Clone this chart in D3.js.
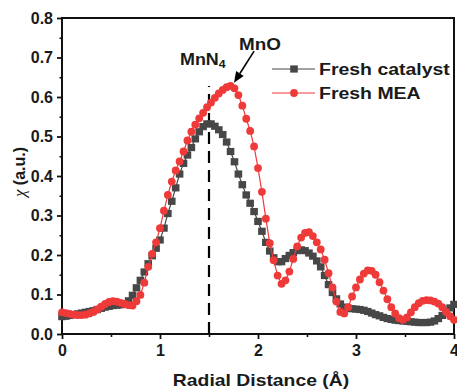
<!DOCTYPE html>
<html>
<head>
<meta charset="utf-8">
<script src="https://cdn.jsdelivr.net/npm/d3@7"></script>
<style>
  html, body { margin: 0; padding: 0; background: #fff; }
  svg { display: block; font-family: "Liberation Sans", Arial, sans-serif; }
</style>
</head>
<body>
<svg id="chart" width="457" height="390"></svg>
<script>
// Radial distance grid (Å), sampled every 0.04 Å from 0 to 4
const rStep = 0.04;
const radialDistance = d3.range(101).map(i => +(i * rStep).toFixed(2));

// |χ(R)| magnitude, Fresh catalyst
const freshCatalyst = [
  0.044,0.045,0.047,0.049,0.051,0.053,0.055,0.057,0.059,0.062,
  0.065,0.068,0.070,0.072,0.073,0.074,0.077,0.084,0.098,0.117,
  0.136,0.157,0.178,0.198,0.217,0.238,0.268,0.305,0.336,0.370,
  0.405,0.432,0.453,0.472,0.494,0.512,0.525,0.532,0.532,0.526,
  0.517,0.505,0.486,0.462,0.436,0.405,0.378,0.352,0.331,0.310,
  0.285,0.260,0.232,0.210,0.193,0.183,0.183,0.191,0.199,0.206,
  0.211,0.213,0.211,0.205,0.197,0.185,0.170,0.148,0.125,0.105,
  0.089,0.076,0.068,0.065,0.064,0.063,0.062,0.060,0.057,0.053,
  0.049,0.046,0.042,0.039,0.037,0.035,0.034,0.033,0.032,0.031,
  0.030,0.029,0.029,0.029,0.030,0.033,0.039,0.047,0.056,0.066,
  0.075
];

// |χ(R)| magnitude, Fresh MEA
const freshMEA = [
  0.055,0.053,0.051,0.049,0.048,0.048,0.049,0.052,0.056,0.062,
  0.069,0.076,0.081,0.083,0.082,0.079,0.076,0.073,0.072,0.083,
  0.099,0.130,0.170,0.203,0.232,0.268,0.312,0.352,0.386,0.414,
  0.437,0.462,0.490,0.512,0.530,0.546,0.560,0.574,0.586,0.598,
  0.609,0.618,0.625,0.628,0.622,0.605,0.578,0.545,0.514,0.475,
  0.420,0.360,0.292,0.230,0.187,0.148,0.127,0.136,0.158,0.190,
  0.222,0.244,0.256,0.258,0.248,0.232,0.214,0.188,0.154,0.118,
  0.082,0.056,0.052,0.068,0.095,0.118,0.138,0.153,0.161,0.160,
  0.150,0.131,0.110,0.088,0.068,0.052,0.040,0.036,0.042,0.055,
  0.068,0.078,0.084,0.086,0.085,0.082,0.077,0.068,0.056,0.045,
  0.036
];

const seriesNames = ["Fresh catalyst", "Fresh MEA"];
const xTicks = [0, 1, 2, 3, 4];
const yTicks = [0, 0.1, 0.2, 0.3, 0.4, 0.5, 0.6, 0.7, 0.8];

// Reference position of the Mn–N4 first shell
const mnN4Position = 1.5;

const colors = { catalyst: "#474747", mea: "#ef3a3a", text: "#1a1a1a" };

const svg = d3.select("#chart");
const plot = { left: 62, right: 454, top: 18, bottom: 334 };

const x = d3.scaleLinear().domain([0, 4]).range([plot.left, plot.right]);
const y = d3.scaleLinear().domain([0, 0.8]).range([plot.bottom, plot.top]);

// Bold label drawn with a slightly widened face
function wideText(parent, px, py, sx, size) {
  return parent.append("text")
    .attr("transform", `translate(${px},${py}) scale(${sx},1)`)
    .attr("fill", colors.text)
    .style("font-size", size + "px")
    .style("font-weight", "bold");
}

// Minor ticks
svg.append("g")
  .attr("transform", `translate(0,${plot.bottom})`)
  .call(d3.axisBottom(x).tickValues(d3.range(0.5, 4, 1)).tickSize(3).tickFormat(""))
  .call(g => g.select(".domain").remove())
  .call(g => g.selectAll("line").attr("stroke", "#111").attr("stroke-width", 1.6));
svg.append("g")
  .attr("transform", `translate(${plot.left},0)`)
  .call(d3.axisLeft(y).tickValues(d3.range(0.05, 0.8, 0.1)).tickSize(2.5).tickFormat(""))
  .call(g => g.select(".domain").remove())
  .call(g => g.selectAll("line").attr("stroke", "#111").attr("stroke-width", 1.6));

// Major axes
const xAxis = svg.append("g")
  .attr("transform", `translate(0,${plot.bottom})`)
  .call(d3.axisBottom(x).tickValues(xTicks).tickSize(5).tickPadding(6).tickFormat(d3.format("d")));
const yAxis = svg.append("g")
  .attr("transform", `translate(${plot.left},0)`)
  .call(d3.axisLeft(y).tickValues(yTicks).tickSize(5).tickPadding(4).tickFormat(d3.format(".1f")));

[xAxis, yAxis].forEach(g => {
  g.select(".domain").remove();
  g.selectAll("line").attr("stroke", "#111").attr("stroke-width", 1.8);
  g.selectAll("text")
    .attr("fill", colors.text)
    .style("font-family", "'Liberation Sans', Arial, sans-serif")
    .style("font-size", "16px")
    .style("font-weight", "bold");
});

// Frame
svg.append("rect")
  .attr("x", plot.left).attr("y", plot.top)
  .attr("width", plot.right - plot.left).attr("height", plot.bottom - plot.top)
  .attr("fill", "none").attr("stroke", "#111").attr("stroke-width", 2);

// Axis titles
wideText(svg, 261, 386, 1.21, 16)
  .attr("text-anchor", "middle")
  .text("Radial Distance (Å)");

const yTitle = svg.append("text")
  .attr("transform", `translate(25,172) rotate(-90)`)
  .attr("text-anchor", "middle")
  .attr("fill", colors.text)
  .style("font-size", "16px").style("font-weight", "bold");
yTitle.append("tspan")
  .style("font-family", "'Liberation Serif', 'DejaVu Serif', serif")
  .style("font-style", "italic").style("font-weight", "normal")
  .style("font-size", "17px")
  .text("χ");
yTitle.append("tspan").text(" (a.u.)");

// Dashed marker for the Mn–N4 shell
svg.append("line")
  .attr("x1", x(mnN4Position)).attr("x2", x(mnN4Position))
  .attr("y1", y(0)).attr("y2", y(0.628))
  .attr("stroke", "#000").attr("stroke-width", 2.2)
  .attr("stroke-dasharray", "12,7");

// Series
const catalystData = radialDistance.map((r, i) => ({ r, v: freshCatalyst[i] }));
const meaData = radialDistance.map((r, i) => ({ r, v: freshMEA[i] }));
const line = d3.line().x(d => x(d.r)).y(d => y(d.v));

svg.append("path").datum(catalystData)
  .attr("d", line).attr("fill", "none")
  .attr("stroke", colors.catalyst).attr("stroke-width", 1.2);
svg.append("g").selectAll("rect").data(catalystData).join("rect")
  .attr("x", d => x(d.r) - 3.8).attr("y", d => y(d.v) - 3.6)
  .attr("width", 7.6).attr("height", 7.2)
  .attr("fill", colors.catalyst);

svg.append("path").datum(meaData)
  .attr("d", line).attr("fill", "none")
  .attr("stroke", colors.mea).attr("stroke-width", 1.2);
svg.append("g").selectAll("circle").data(meaData).join("circle")
  .attr("cx", d => x(d.r)).attr("cy", d => y(d.v))
  .attr("r", 3.9)
  .attr("fill", colors.mea);

// Annotations
const mnN4 = wideText(svg, 180, 65, 1.12, 16);
mnN4.append("tspan").text("MnN");
mnN4.append("tspan").attr("dy", 3).style("font-size", "11px").text("4");

wideText(svg, 239, 50, 1.18, 16).text("MnO");

// Arrow pointing at the Mn–O peak
const tip = [x(1.755), y(0.636)];
const tail = [x(1.96), y(0.716)];
const ang = Math.atan2(tip[1] - tail[1], tip[0] - tail[0]);
const headLen = 11, headW = 4.5;
const base = [tip[0] - headLen * Math.cos(ang), tip[1] - headLen * Math.sin(ang)];
svg.append("line")
  .attr("x1", tail[0]).attr("y1", tail[1]).attr("x2", base[0]).attr("y2", base[1])
  .attr("stroke", "#000").attr("stroke-width", 1.6);
svg.append("path")
  .attr("d", `M${tip[0]},${tip[1]}`
    + `L${base[0] + headW * Math.sin(ang)},${base[1] - headW * Math.cos(ang)}`
    + `L${base[0] - headW * Math.sin(ang)},${base[1] + headW * Math.cos(ang)}Z`)
  .attr("fill", "#000");

// Legend
const legend = svg.append("g");
const legendRows = [
  { name: seriesNames[0], color: colors.catalyst, shape: "square", yPos: 69 },
  { name: seriesNames[1], color: colors.mea, shape: "circle", yPos: 93 }
];
legendRows.forEach(row => {
  legend.append("line")
    .attr("x1", 272).attr("x2", 315).attr("y1", row.yPos).attr("y2", row.yPos)
    .attr("stroke", row.color).attr("stroke-width", 1.2);
  if (row.shape === "square") {
    legend.append("rect")
      .attr("x", 294 - 3.8).attr("y", row.yPos - 3.6)
      .attr("width", 7.6).attr("height", 7.2).attr("fill", row.color);
  } else {
    legend.append("circle")
      .attr("cx", 294).attr("cy", row.yPos).attr("r", 3.9).attr("fill", row.color);
  }
  wideText(legend, 319, row.yPos + 5.5, 1.18, 16.5).text(row.name);
});
</script>
</body>
</html>
